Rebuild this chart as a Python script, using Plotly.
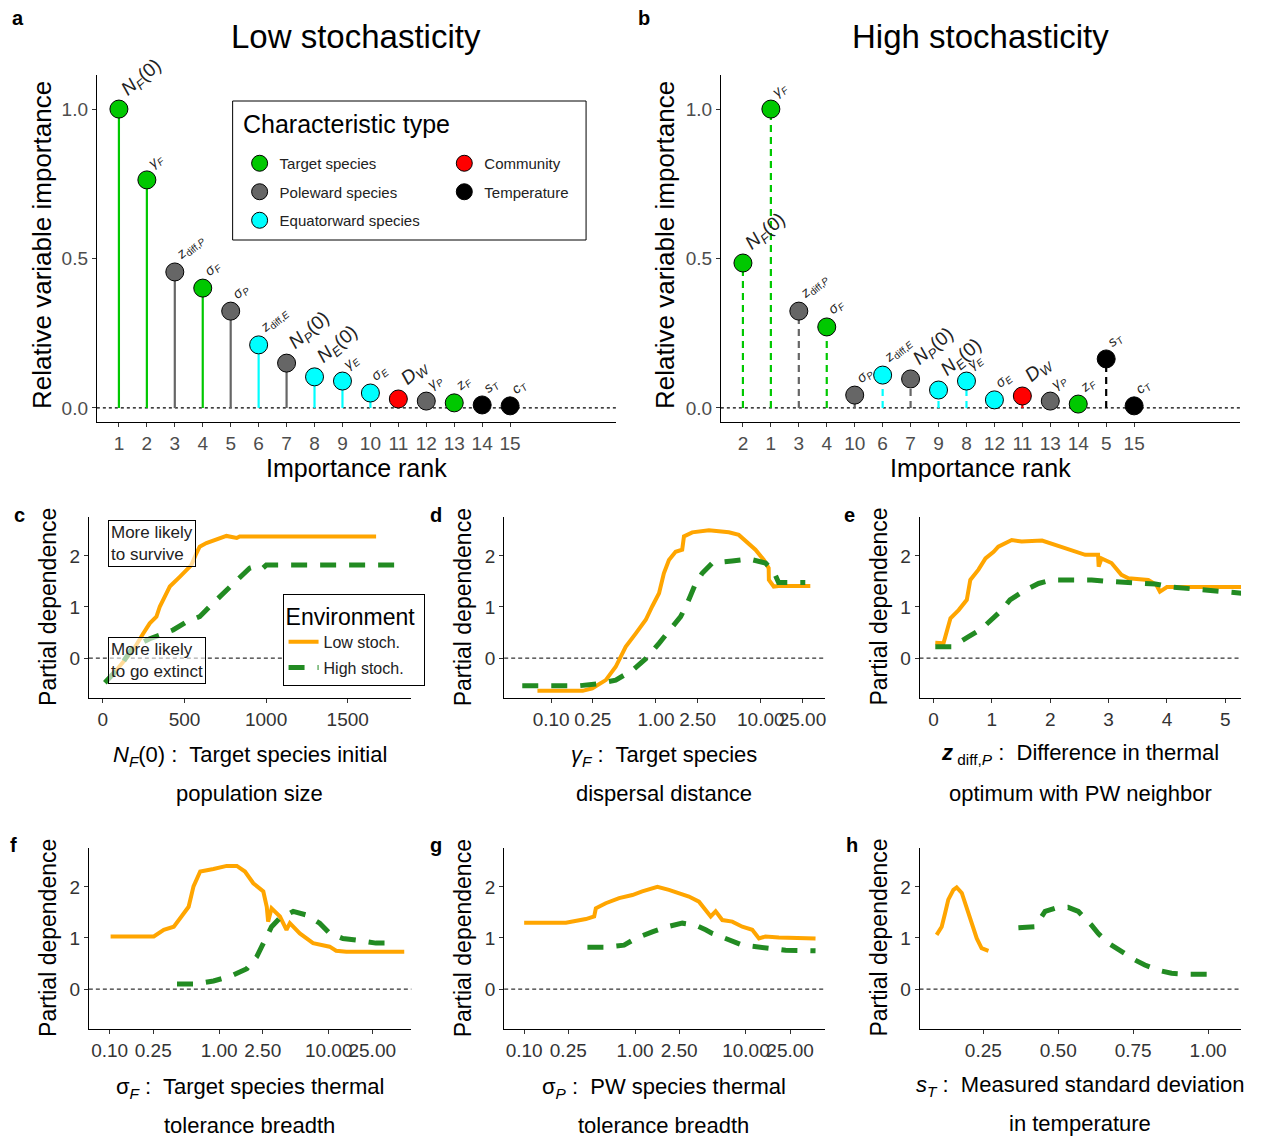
import plotly.graph_objects as go

W, H = 1261, 1137


def px(x):
    return x / W


def py(y):
    return 1 - y / H


# ---------------- data: variable importance (panels a, b) ----------------
variables = ["N_F(0)", "gamma_F", "z_diff,P", "sigma_F", "sigma_P", "z_diff,E", "N_P(0)",
             "N_E(0)", "gamma_E", "sigma_E", "D_W", "gamma_P", "z_F", "s_T", "c_T"]
var_labels = ["<i>N</i><sub><i>F</i></sub>(0)", "<i>γ</i><sub><i>F</i></sub>",
              "<i>z</i><sub>diff,<i>P</i></sub>", "<i>σ</i><sub><i>F</i></sub>",
              "<i>σ</i><sub><i>P</i></sub>", "<i>z</i><sub>diff,<i>E</i></sub>",
              "<i>N</i><sub><i>P</i></sub>(0)", "<i>N</i><sub><i>E</i></sub>(0)",
              "<i>γ</i><sub><i>E</i></sub>", "<i>σ</i><sub><i>E</i></sub>",
              "<i>D</i><sub><i>W</i></sub>", "<i>γ</i><sub><i>P</i></sub>",
              "<i>z</i><sub><i>F</i></sub>", "<i>s</i><sub><i>T</i></sub>",
              "<i>c</i><sub><i>T</i></sub>"]
var_types = ["Target species", "Target species", "Poleward species", "Target species",
             "Poleward species", "Equatorward species", "Poleward species",
             "Equatorward species", "Equatorward species", "Equatorward species",
             "Community", "Poleward species", "Target species", "Temperature", "Temperature"]
low_rank_labels = ["1", "2", "3", "4", "5", "6", "7", "8", "9", "10", "11", "12", "13", "14", "15"]
low_importance = [1.0, 0.763, 0.455, 0.401, 0.324, 0.211, 0.150, 0.104, 0.090, 0.050,
                  0.030, 0.023, 0.017, 0.010, 0.007]
high_rank_labels = ["2", "1", "3", "4", "10", "6", "7", "9", "8", "12", "11", "13", "14", "5", "15"]
high_importance = [0.485, 1.0, 0.324, 0.271, 0.043, 0.110, 0.097, 0.060, 0.090, 0.027,
                   0.040, 0.023, 0.013, 0.164, 0.007]
type_names = ["Target species", "Poleward species", "Equatorward species", "Community", "Temperature"]

# ---------------- data: partial dependence (panels c-h) ----------------
c_low_x = [73, 186, 247, 287, 328, 349, 390, 410, 471, 502, 542, 573, 593, 634, 716, 757, 820, 838, 1674]
c_low_y = [-0.27, 0.16, 0.48, 0.68, 0.81, 1.01, 1.27, 1.40, 1.59, 1.69, 1.82, 2.05, 2.18, 2.25, 2.35,
           2.39, 2.35, 2.38, 2.38]
c_high_x = [12, 104, 186, 287, 349, 430, 512, 593, 654, 716, 777, 838, 899, 940, 980, 1001, 1817]
c_high_y = [-0.48, -0.17, 0.22, 0.38, 0.45, 0.55, 0.71, 0.81, 1.01, 1.20, 1.40, 1.59, 1.76, 1.80,
            1.76, 1.82, 1.82]

d_low_x = [0.074, 0.2, 0.247, 0.332, 0.413, 0.461, 0.514, 0.64, 0.80, 0.92, 1.07, 1.19, 1.33, 1.54,
           1.78, 1.85, 2.22, 3.2, 4.96, 6.17, 7.69, 8.9, 10.7, 11.9, 11.95, 13.3, 14.8, 29.7]
d_low_y = [-0.64, -0.64, -0.59, -0.43, -0.17, 0.03, 0.22, 0.48, 0.75, 1.01, 1.27, 1.66, 1.92, 2.08,
           2.12, 2.38, 2.46, 2.50, 2.46, 2.41, 2.25, 2.12, 1.92, 1.76, 1.53, 1.40, 1.41, 1.41]
d_high_x = [0.053, 0.185, 0.286, 0.413, 0.595, 0.80, 1.07, 1.33, 1.72, 1.99, 2.39, 2.76, 3.44, 5.33,
            7.69, 11.1, 13.3, 14.8, 26.6]
d_high_y = [-0.54, -0.54, -0.50, -0.43, -0.24, -0.01, 0.29, 0.52, 0.81, 1.07, 1.46, 1.66, 1.86, 1.90,
            1.94, 1.86, 1.69, 1.48, 1.48]

e_low_x = [0.03, 0.17, 0.29, 0.43, 0.57, 0.63, 0.77, 0.89, 1.03, 1.11, 1.34, 1.51, 1.86, 2.08, 2.37,
           2.60, 2.82, 2.83, 2.88, 3.05, 3.22, 3.34, 3.68, 3.82, 3.88, 4.0, 5.28]
e_low_y = [0.30, 0.29, 0.78, 0.94, 1.14, 1.53, 1.73, 1.95, 2.08, 2.18, 2.31, 2.28, 2.30, 2.22, 2.12,
           2.02, 2.02, 1.79, 1.95, 1.86, 1.63, 1.56, 1.53, 1.43, 1.30, 1.39, 1.39]
e_high_x = [0.03, 0.31, 0.60, 0.83, 1.17, 1.31, 1.57, 1.80, 2.03, 2.37, 2.71, 3.0, 3.40, 3.80, 4.08,
            4.59, 4.94, 5.28]
e_high_y = [0.22, 0.22, 0.42, 0.58, 0.94, 1.14, 1.33, 1.46, 1.53, 1.53, 1.53, 1.50, 1.48, 1.45, 1.39,
            1.33, 1.30, 1.27]

f_low_x = [0.102, 0.253, 0.312, 0.385, 0.442, 0.526, 0.583, 0.671, 0.887, 1.17, 1.45, 1.72, 2.05,
           2.53, 2.72, 2.8, 3.01, 3.59, 4.12, 4.42, 5.45, 7.2, 10.2, 11.7, 14.5, 49]
f_low_y = [1.03, 1.03, 1.16, 1.22, 1.39, 1.61, 2.01, 2.30, 2.35, 2.41, 2.41, 2.30, 2.07, 1.91, 1.61,
           1.32, 1.58, 1.42, 1.16, 1.29, 1.09, 0.90, 0.83, 0.75, 0.73, 0.73]
f_high_x = [0.412, 0.605, 0.887, 1.26, 1.79, 2.2, 2.62, 3.01, 3.59, 4.74, 6.27, 8.28, 10.2, 13.5,
            17.8, 27, 39.8]
f_high_y = [0.10, 0.10, 0.16, 0.25, 0.40, 0.63, 0.96, 1.22, 1.39, 1.52, 1.45, 1.29, 1.09, 0.99,
            0.96, 0.90, 0.90]

g_low_x = [0.1, 0.238, 0.36, 0.428, 0.443, 0.544, 0.718, 0.946, 1.16, 1.43, 1.59, 2.02, 2.49, 3.06,
           3.77, 4.33, 4.81, 5.33, 6.12, 7.53, 9.27, 11.4, 13.1, 15.0, 19.8, 42.4]
g_low_y = [1.30, 1.30, 1.37, 1.42, 1.58, 1.68, 1.78, 1.84, 1.91, 1.97, 2.0, 1.94, 1.88, 1.81, 1.71,
           1.55, 1.42, 1.52, 1.35, 1.32, 1.22, 1.16, 0.99, 1.03, 1.01, 0.99]
g_high_x = [0.372, 0.544, 0.796, 1.01, 1.43, 1.95, 2.67, 3.52, 4.33, 4.97, 6.56, 9.27, 16.1, 22.8, 42.4]
g_high_y = [0.82, 0.82, 0.86, 0.99, 1.12, 1.22, 1.29, 1.25, 1.16, 1.09, 0.99, 0.86, 0.80, 0.76, 0.75]

h_low_x = [0.094, 0.111, 0.122, 0.133, 0.15, 0.161, 0.178, 0.194, 0.211, 0.228, 0.244, 0.267]
h_low_y = [1.06, 1.22, 1.48, 1.75, 1.94, 1.99, 1.88, 1.61, 1.29, 0.99, 0.80, 0.75]
h_high_x = [0.367, 0.422, 0.456, 0.489, 0.533, 0.567, 0.611, 0.633, 0.667, 0.711, 0.756, 0.789,
            0.833, 0.878, 0.933, 1.028]
h_high_y = [1.20, 1.22, 1.52, 1.58, 1.60, 1.52, 1.25, 1.09, 0.90, 0.73, 0.57, 0.47, 0.37, 0.31,
            0.29, 0.29]

log_tickvals = [0.1, 0.25, 1, 2.5, 10, 25]
log_ticktext = ["0.10", "0.25", "1.00", "2.50", "10.00", "25.00"]

# ---------------- styles ----------------
FONT = "Liberation Sans, Arial, sans-serif"
type_colors = {"Target species": "#00C800", "Poleward species": "#666666",
               "Equatorward species": "#00FFFF", "Community": "#FF0000", "Temperature": "#000000"}
big_label_vars = {"N_F(0)", "N_P(0)", "N_E(0)", "D_W"}
ORANGE = "#FFA500"
FGREEN = "#228B22"

fig = go.Figure()
positions = list(range(1, len(variables) + 1))

# stems + markers for panels a and b
for panel, vals, xa, ya, dash in [("a", low_importance, "x", "y", "solid"),
                                   ("b", high_importance, "x2", "y2", "7px,5px")]:
    for t in type_names:
        sx, sy = [], []
        for p, v, vt in zip(positions, vals, var_types):
            if vt == t:
                sx += [p, p, None]
                sy += [0, v, None]
        fig.add_trace(go.Scatter(x=sx, y=sy, mode="lines", xaxis=xa, yaxis=ya,
                                 line=dict(color=type_colors[t], width=2.2, dash=dash),
                                 showlegend=False, hoverinfo="skip"))
    for t in type_names:
        mx = [p for p, vt in zip(positions, var_types) if vt == t]
        my = [v for v, vt in zip(vals, var_types) if vt == t]
        fig.add_trace(go.Scatter(
            x=mx, y=my, mode="markers", xaxis=xa, yaxis=ya, name=t,
            marker=dict(size=18, color=type_colors[t], line=dict(color="#000000", width=1)),
            showlegend=(panel == "a"),
            legend=("legend" if t in type_names[:3] else "legend2"),
            legendgroup=t))

# partial dependence lines
pd_sets = [
    ("x3", "y3", c_low_x, c_low_y, c_high_x, c_high_y),
    ("x4", "y4", d_low_x, d_low_y, d_high_x, d_high_y),
    ("x5", "y5", e_low_x, e_low_y, e_high_x, e_high_y),
    ("x6", "y6", f_low_x, f_low_y, f_high_x, f_high_y),
    ("x7", "y7", g_low_x, g_low_y, g_high_x, g_high_y),
    ("x8", "y8", h_low_x, h_low_y, h_high_x, h_high_y),
]
for i, (xa, ya, lx, ly, hx, hy) in enumerate(pd_sets):
    fig.add_trace(go.Scatter(x=lx, y=ly, mode="lines", xaxis=xa, yaxis=ya, name="Low stoch.",
                             line=dict(color=ORANGE, width=4), legend="legend3",
                             showlegend=(i == 0), legendgroup="low"))
    fig.add_trace(go.Scatter(x=hx, y=hy, mode="lines", xaxis=xa, yaxis=ya, name="High stoch.",
                             line=dict(color=FGREEN, width=5, dash="16px,13px"), legend="legend3",
                             showlegend=(i == 0), legendgroup="high"))

# ---------------- axes ----------------
axis_common = dict(showline=True, linecolor="#000000", linewidth=1, ticks="outside", ticklen=4,
                   tickcolor="#333333", showgrid=False, zeroline=False, tickangle=0)

layout = dict(
    width=W, height=H, margin=dict(l=0, r=0, t=0, b=0), autosize=False,
    paper_bgcolor="white", plot_bgcolor="white",
    font=dict(family=FONT, color="#000000"),
)

top_y = [py(422), py(75)]
layout["xaxis"] = dict(axis_common, domain=[px(97), px(617)], anchor="y", range=[0.21, 18.79],
                       tickvals=positions, ticktext=low_rank_labels,
                       tickfont=dict(size=19, color="#4D4D4D"))
layout["yaxis"] = dict(axis_common, domain=top_y, anchor="x", range=[-0.047, 1.114],
                       tickvals=[0, 0.5, 1.0], ticktext=["0.0", "0.5", "1.0"],
                       tickfont=dict(size=19, color="#4D4D4D"))
layout["xaxis2"] = dict(axis_common, domain=[px(722), px(1242)], anchor="y2", range=[0.21, 18.79],
                        tickvals=positions, ticktext=high_rank_labels,
                        tickfont=dict(size=19, color="#4D4D4D"))
layout["yaxis2"] = dict(axis_common, domain=top_y, anchor="x2", range=[-0.047, 1.114],
                        tickvals=[0, 0.5, 1.0], ticktext=["0.0", "0.5", "1.0"],
                        tickfont=dict(size=19, color="#4D4D4D"))

row1 = [py(698), py(517)]
row2 = [py(1029), py(848)]
col1 = [px(89), px(412)]
col2 = [px(505), px(826)]
col3 = [px(921), px(1243)]
pd_font = dict(size=19, color="#333333")
pd_y = dict(axis_common, range=[-0.78, 2.76], tickvals=[0, 1, 2], tickfont=pd_font)

layout["xaxis3"] = dict(axis_common, domain=col1, anchor="y3", range=[-86, 1890],
                        tickvals=[0, 500, 1000, 1500], tickfont=pd_font)
layout["yaxis3"] = dict(pd_y, domain=row1, anchor="x3")
layout["xaxis4"] = dict(axis_common, domain=col2, anchor="y4", type="log", range=[-1.448, 1.61],
                        tickvals=log_tickvals, ticktext=log_ticktext, tickfont=pd_font)
layout["yaxis4"] = dict(pd_y, domain=row1, anchor="x4")
layout["xaxis5"] = dict(axis_common, domain=col3, anchor="y5", range=[-0.24, 5.27],
                        tickvals=[0, 1, 2, 3, 4, 5], tickfont=pd_font)
layout["yaxis5"] = dict(pd_y, domain=row1, anchor="x5")
layout["xaxis6"] = dict(axis_common, domain=col1, anchor="y6", type="log", range=[-1.19, 1.755],
                        tickvals=log_tickvals, ticktext=log_ticktext, tickfont=pd_font)
layout["yaxis6"] = dict(pd_y, domain=row2, anchor="x6")
layout["xaxis7"] = dict(axis_common, domain=col2, anchor="y7", type="log", range=[-1.18, 1.71],
                        tickvals=log_tickvals, ticktext=log_ticktext, tickfont=pd_font)
layout["yaxis7"] = dict(pd_y, domain=row2, anchor="x7")
layout["xaxis8"] = dict(axis_common, domain=col3, anchor="y8", range=[0.037, 1.11],
                        tickvals=[0.25, 0.5, 0.75, 1.0], ticktext=["0.25", "0.50", "0.75", "1.00"],
                        tickfont=pd_font)
layout["yaxis8"] = dict(pd_y, domain=row2, anchor="x8")

# ---------------- legends ----------------
layout["legend"] = dict(x=px(240), y=py(147), xanchor="left", yanchor="top",
                        bgcolor="rgba(0,0,0,0)", font=dict(size=15, color="#222222"),
                        tracegroupgap=6, itemsizing="trace")
layout["legend2"] = dict(x=px(445), y=py(147), xanchor="left", yanchor="top",
                         bgcolor="rgba(0,0,0,0)", font=dict(size=15, color="#222222"),
                         tracegroupgap=6, itemsizing="trace")
layout["legend3"] = dict(x=px(283), y=py(594), xanchor="left", yanchor="top",
                         bgcolor="white", bordercolor="#000000", borderwidth=1,
                         font=dict(size=16, color="#222222"), tracegroupgap=2,
                         title=dict(text="Environment ", font=dict(size=23, color="#000000")))

fig.update_layout(**layout)

# ---------------- shapes ----------------
shapes = []
for xa, ya in [("x", "y"), ("x2", "y2")]:
    shapes.append(dict(type="line", xref=xa + " domain", yref=ya, x0=0, x1=1, y0=0, y1=0,
                       line=dict(color="#000000", width=1.2, dash="dot"), layer="below"))
for k in range(3, 9):
    shapes.append(dict(type="line", xref="x%d domain" % k, yref="y%d" % k, x0=0, x1=1, y0=0, y1=0,
                       line=dict(color="#000000", width=1, dash="4px,3px"), layer="below"))
shapes.append(dict(type="rect", xref="paper", yref="paper", x0=px(233), x1=px(587),
                   y0=py(240), y1=py(101), line=dict(color="#000000", width=1), layer="above"))
fig.update_layout(shapes=shapes)

# ---------------- annotations ----------------
ann = []


def text(x, y, s, size, **kw):
    d = dict(x=x, y=y, xref="paper", yref="paper", text=s, showarrow=False,
             xanchor=kw.pop("xanchor", "center"), yanchor=kw.pop("yanchor", "middle"),
             font=dict(size=size, family=FONT, color=kw.pop("color", "#000000")))
    d.update(kw)
    ann.append(d)


# point labels
for xa, ya, vals in [("x", "y", low_importance), ("x2", "y2", high_importance)]:
    for p, v, name, lab in zip(positions, vals, variables, var_labels):
        size = 19 if name in big_label_vars else 14
        ann.append(dict(x=p, y=v, xref=xa, yref=ya, text=lab, showarrow=False, textangle=-40,
                        xanchor="left", yanchor="bottom", xshift=-5, yshift=5,
                        font=dict(size=size, family=FONT, color="#222222")))

# titles & axis titles for a/b
text(px(357), py(36), "Low stochasticity", 33)
text(px(982), py(36), "High stochasticity", 33)
text(px(42), py(245), "Relative variable importance", 26, textangle=-90)
text(px(666), py(245), "Relative variable importance", 26, textangle=-90)
text(px(357), py(468), "Importance rank", 25)
text(px(982), py(468), "Importance rank", 25)
text(px(241), py(124), "Characteristic type", 25, xanchor="left")

# panel letters
for letter, lx, ly in [("a", 18, 18), ("b", 645, 18), ("c", 20, 515), ("d", 437, 515),
                       ("e", 851, 515), ("f", 14, 845), ("g", 437, 845), ("h", 853, 845)]:
    text(px(lx), py(ly), "<b>%s</b>" % letter, 20)

# y titles for PD panels
for cx in [48, 464, 880]:
    for cy in [607, 938]:
        text(px(cx), py(cy), "Partial dependence", 23, textangle=-90)

# x titles for PD panels (two lines)
xt = [
    (250, 756, 793, "<i>N</i><sub><i>F</i></sub>(0) :  Target species initial", "population size"),
    (665, 756, 793, "<i>γ</i><sub><i>F</i></sub> :  Target species", "dispersal distance"),
    (1082, 754, 793, "<b><i>z</i></b><sub> diff,<i>P</i></sub> :  Difference in thermal",
     "optimum with PW neighbor"),
    (250, 1088, 1125, "σ<sub><i>F</i></sub> :  Target species thermal", "tolerance breadth"),
    (665, 1088, 1125, "σ<sub><i>P</i></sub> :  PW species thermal", "tolerance breadth"),
    (1082, 1086, 1123, "<i>s</i><sub><i>T</i></sub> :  Measured standard deviation", "in temperature"),
]
for cx, y1, y2, l1, l2 in xt:
    text(px(cx), py(y1), l1, 22)
    text(px(cx), py(y2), l2, 22)

# boxed notes in panel c
for ty, s in [(2.71, "More likely<br>to survive"), (0.41, "More likely<br>to go extinct")]:
    ann.append(dict(x=30, y=ty, xref="x3", yref="y3", text=s, showarrow=False,
                    xanchor="left", yanchor="top", align="left",
                    bgcolor="rgba(255,255,255,0.6)", bordercolor="#000000", borderwidth=1,
                    borderpad=2, font=dict(size=17, family=FONT, color="#222222")))

fig.update_layout(annotations=ann)
fig.write_html("out.html")
